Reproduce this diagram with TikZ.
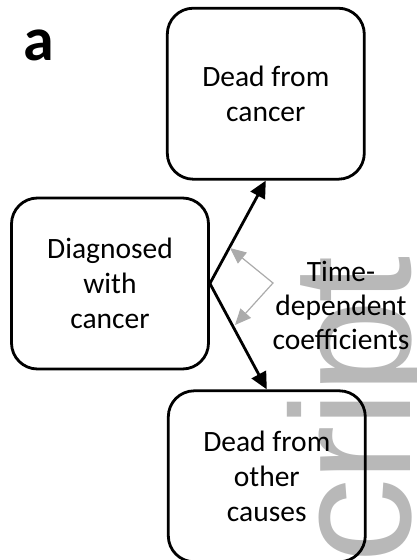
\documentclass[tikz,border=0pt]{standalone}
\usepackage{fontspec}
\setmainfont{Carlito}
\newfontfamily\wmfont[LetterSpace=-2]{Liberation Sans}
\usetikzlibrary{positioning,arrows.meta}

\tikzset{
  statebox/.style={draw, line width=2.8pt, rounded corners=26pt,
    minimum width=197pt, minimum height=171pt, align=center,
    font=\fontsize{29.5}{35}\selectfont},
  flow/.style={line width=2.8pt, -{Triangle[length=17pt,width=16pt]}},
  hint/.style={draw=black!33, line width=1.2pt, line join=miter,
    {Triangle[length=16pt,width=14pt]}-{Triangle[length=16pt,width=14pt]}},
}

\begin{document}
\begin{tikzpicture}[x=1pt,y=-1pt]

  \useasboundingbox (0,0) rectangle (417,560);

  % watermark behind everything
  \begin{scope}
    \clip (0,0) rectangle (417,560);
    \node[rotate=90, anchor=base west, inner sep=0, text=black!28,
      font=\wmfont\fontsize{170}{170}\selectfont] (wm) at (410,564) {cript};
  \end{scope}

  \node[anchor=base, font=\bfseries\fontsize{62}{62}\selectfont] (panel) at (39,60) {a};

  \node[statebox] (diag) at (110,283.5) {Diagnosed\\with\\cancer};
  \node[statebox] (cancer) [above right=16pt and -44pt of diag] {Dead from\\cancer};
  \node[statebox] (other) [below right=19pt and -43pt of diag] {Dead from\\other\\causes};

  \path[flow] (diag.east) edge (cancer.south);
  \path[flow] (diag.east) edge (other.north);

  \coordinate (kink) at (273,283);
  \coordinate (up) at (230,248);
  \coordinate (down) at (235,325);
  \draw[hint] (up) -- (kink) -- (down);

  \node[align=center, font=\fontsize{29.5}{34}\selectfont] (coef) at (341,305)
    {Time-\\dependent\\coefficients};

\end{tikzpicture}
\end{document}
